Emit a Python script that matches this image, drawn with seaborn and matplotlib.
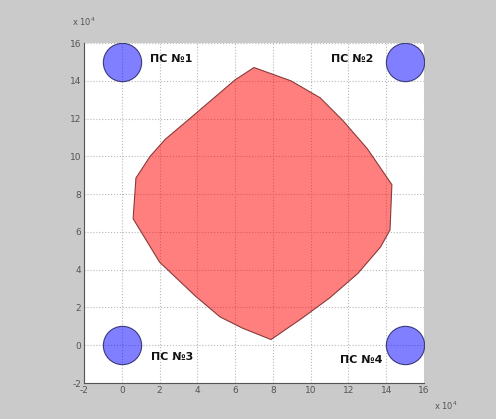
import matplotlib
matplotlib.use("Agg")
import matplotlib.pyplot as plt
import seaborn as sns
import pandas as pd

# Coverage area polygon (units of 10^4)
poly_x = [7.0, 8.95, 10.5, 11.7, 13.0, 14.3, 14.2, 13.7, 12.5, 11.0, 9.5, 7.9,
          6.4, 5.2, 3.9, 2.0, 0.6, 0.75, 1.5, 2.3, 3.6, 6.0]
poly_y = [14.7, 14.0, 13.1, 11.9, 10.4, 8.5, 6.1, 5.2, 3.8, 2.5, 1.4, 0.3,
          0.9, 1.5, 2.6, 4.4, 6.7, 8.85, 10.0, 10.9, 12.0, 14.05]

# Stations
st_names = ["ПС №1", "ПС №2", "ПС №3", "ПС №4"]
st_x = [0, 15, 0, 15]
st_y = [15, 15, 0, 0]
lbl_x = [1.5, 13.3, 1.55, 13.8]
lbl_y = [15.15, 15.15, -0.6, -0.8]
lbl_ha = ["left", "right", "left", "right"]

ticks = [-2, 0, 2, 4, 6, 8, 10, 12, 14, 16]

sns.set_style("whitegrid")
plt.rcParams['font.family'] = ['DejaVu Sans']

fig = plt.figure(figsize=(4.96, 4.19), dpi=100)
fig.patch.set_facecolor("#cacaca")
ax = fig.add_axes([84/496, 1 - 383/419, 340/496, 340/419])
ax.set_facecolor("white")

ax.fill(poly_x, poly_y, facecolor=(1.0, 0.0, 0.0, 0.5), edgecolor="#8a3a3a",
        linewidth=0.8, zorder=2)

df = pd.DataFrame({"x": st_x, "y": st_y, "name": st_names})
sns.scatterplot(data=df, x="x", y="y", ax=ax, s=760, color=(0.0, 0.0, 1.0, 0.5),
                edgecolor="#3a3a7a", linewidth=0.8, zorder=3, legend=False)

for name, x, y, ha in zip(st_names, lbl_x, lbl_y, lbl_ha):
    ax.text(x, y, name, ha=ha, va="center", fontsize=8, fontweight="bold",
            color="#111111", zorder=4)

ax.set_xlim(-2, 16)
ax.set_ylim(-2, 16)
ax.set_xticks(ticks)
ax.set_yticks(ticks)
ax.set_xticklabels([str(t) for t in ticks])
ax.set_yticklabels([str(t) for t in ticks])
ax.set_xlabel("")
ax.set_ylabel("")
ax.grid(True, linestyle=":", color="#b8b8b8", linewidth=0.8)
ax.set_axisbelow(True)
for s in ["top", "right"]:
    ax.spines[s].set_visible(False)
for s in ["left", "bottom"]:
    ax.spines[s].set_visible(True)
    ax.spines[s].set_color("#555555")
    ax.spines[s].set_linewidth(0.8)
ax.tick_params(axis="both", direction="in", length=3, width=0.6, colors="#555555",
               labelsize=6.5, pad=2, labelcolor="#555555")

fig.text(72/496, 1 - 22/419, r"x 10$^4$", fontsize=6, color="#555555", ha="left", va="center")
fig.text(434/496, 1 - 406/419, r"x 10$^4$", fontsize=6, color="#555555", ha="left", va="center")

fig.savefig("out.png", dpi=100, facecolor=fig.get_facecolor())
